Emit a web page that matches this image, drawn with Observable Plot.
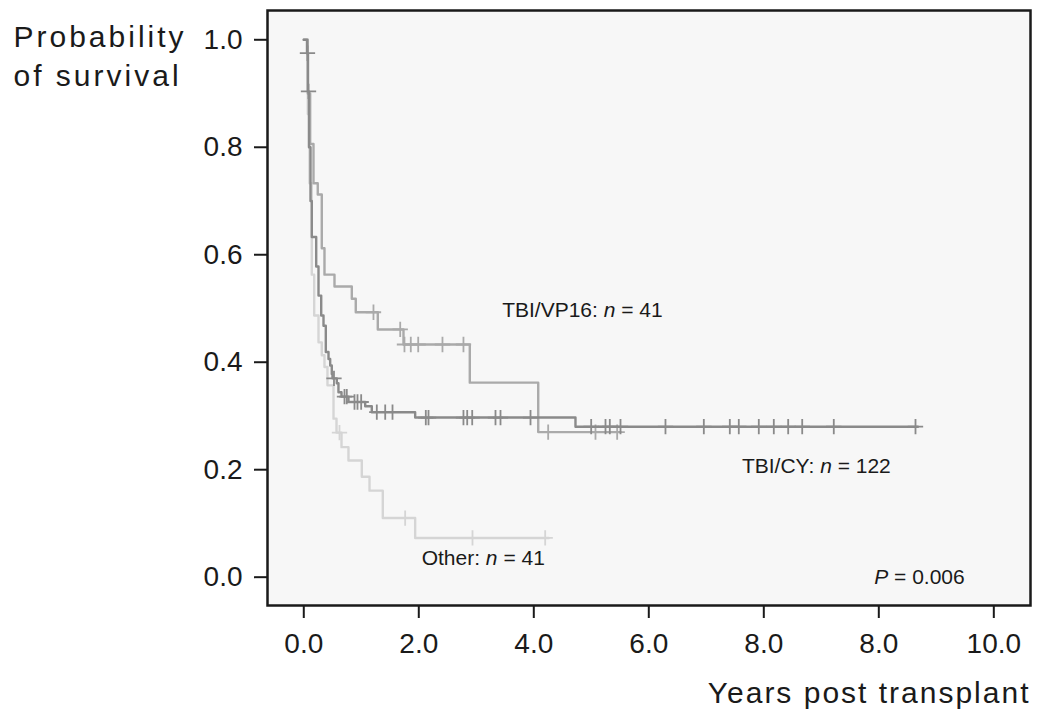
<!DOCTYPE html>
<html><head><meta charset="utf-8">
<script src="https://cdn.jsdelivr.net/npm/d3@7"></script>
<script src="https://cdn.jsdelivr.net/npm/@observablehq/plot@0.6"></script>
<style>
html,body{margin:0;padding:0;background:#fff;}
#chart svg{display:block;}
</style></head><body><div id="chart"></div>
<script>
// ---- axis ticks (labels as printed in the original, incl. the duplicated "8.0")
const xTicks = [0, 2, 4, 6, 8, 10, 12];
const xTickLabels = ["0.0", "2.0", "4.0", "6.0", "8.0", "8.0", "10.0"];
const yTicks = [0, 0.2, 0.4, 0.6, 0.8, 1.0];
const yTickLabels = ["0.0", "0.2", "0.4", "0.6", "0.8", "1.0"];

// ---- TBI/CY (n = 122)
const cyTime = [0, 0.056, 0.073, 0.090, 0.117, 0.139, 0.216, 0.256, 0.303, 0.343, 0.383, 0.430, 0.459, 0.487, 0.499, 0.574, 0.603, 0.656, 0.777, 1.068, 1.183, 1.937, 4.725, 10.68];
const cySurv = [1.0, 0.975, 0.904, 0.80, 0.70, 0.633, 0.578, 0.524, 0.487, 0.468, 0.419, 0.406, 0.394, 0.378, 0.370, 0.361, 0.344, 0.336, 0.326, 0.318, 0.307, 0.297, 0.280, 0.280];
const cyCensored = [0.064, 0.082, 0.525, 0.708, 0.748, 0.882, 0.934, 0.998, 1.270, 1.416, 1.543, 2.122, 2.169, 2.777, 2.842, 2.929, 3.334, 3.421, 3.943, 4.998, 5.247, 5.322, 5.508, 6.290, 6.957, 7.409, 7.565, 7.913, 8.174, 8.424, 8.668, 9.217, 10.638];

// ---- TBI/VP16 (n = 41)
const vpTime = [0, 0.070, 0.111, 0.169, 0.243, 0.313, 0.360, 0.534, 0.835, 0.904, 1.287, 1.734, 2.887, 4.077, 5.51];
const vpSurv = [1.0, 0.90, 0.806, 0.733, 0.712, 0.612, 0.563, 0.541, 0.518, 0.493, 0.461, 0.433, 0.362, 0.270, 0.270];
const vpCensored = [1.212, 1.677, 1.751, 1.861, 1.990, 2.412, 2.777, 4.250, 5.073, 5.450];

// ---- Other (n = 41)
const otTime = [0, 0.070, 0.099, 0.139, 0.181, 0.256, 0.313, 0.360, 0.412, 0.517, 0.569, 0.656, 0.777, 1.009, 1.143, 1.374, 1.937, 4.26];
const otSurv = [1.0, 0.862, 0.733, 0.563, 0.487, 0.437, 0.413, 0.391, 0.357, 0.295, 0.269, 0.242, 0.217, 0.187, 0.161, 0.110, 0.073, 0.073];
const otCensored = [0.621, 1.763, 2.934, 4.198];

// ---- annotations
const annoText = ["TBI/VP16: n = 41", "TBI/CY: n = 122", "Other: n = 41", "P = 0.006"];
const annoX = [3.45, 7.62, 2.05, 9.92];
const annoY = [0.485, 0.193, 0.022, -0.012];

const colors = {cy: "#8a8a8a", vp: "#aaaaaa", ot: "#d5d5d5"};

function curve(time, surv) { return time.map((t, i) => ({t, s: surv[i]})); }
function censorPts(time, surv, cens) {
  return cens.map(c => ({t: c, s: surv[Math.max(0, d3.bisectRight(time, c) - 1)]}));
}
const cy = curve(cyTime, cySurv), vp = curve(vpTime, vpSurv), ot = curve(otTime, otSurv);
const cyC = censorPts(cyTime, cySurv, cyCensored);
const vpC = censorPts(vpTime, vpSurv, vpCensored);
const otC = censorPts(otTime, otSurv, otCensored);
const annos = annoText.map((text, i) => ({text, x: annoX[i], y: annoY[i]}));

const font = "'Liberation Sans', Arial, Helvetica, sans-serif";
const censorR = 5;

const plot = Plot.plot({
  width: 1048,
  height: 710,
  marginLeft: 267,
  marginRight: 18,
  marginTop: 10,
  marginBottom: 105,
  style: {fontFamily: font, background: "#ffffff", color: "#1a1a1a"},
  x: {domain: [-0.631, 12.638]},
  y: {domain: [-0.0527, 1.0545]},
  marks: [
    Plot.frame({fill: "#f7f7f7", stroke: "none"}),
    Plot.line(ot, {x: "t", y: "s", curve: "step-after", stroke: colors.ot, strokeWidth: 2.4}),
    Plot.dot(otC, {x: "t", y: "s", symbol: "plus", r: censorR, stroke: colors.ot, strokeWidth: 1.8}),
    Plot.line(vp, {x: "t", y: "s", curve: "step-after", stroke: colors.vp, strokeWidth: 2.4}),
    Plot.dot(vpC, {x: "t", y: "s", symbol: "plus", r: censorR, stroke: colors.vp, strokeWidth: 1.8}),
    Plot.line(cy, {x: "t", y: "s", curve: "step-after", stroke: colors.cy, strokeWidth: 2.4}),
    Plot.dot(cyC, {x: "t", y: "s", symbol: "plus", r: censorR, stroke: colors.cy, strokeWidth: 1.8}),
    Plot.text(annos, {x: "x", y: "y", text: "text", textAnchor: "start", lineAnchor: "bottom",
      fontSize: 21, fill: "#1a1a1a"}),
    Plot.frame({stroke: "#1a1a1a", strokeWidth: 2.5}),
    Plot.axisX({ticks: xTicks, tickFormat: (d) => xTickLabels[xTicks.indexOf(d)], tickSize: 13,
      tickPadding: 15, fontSize: 28, label: null, stroke: "#1a1a1a", strokeWidth: 2}),
    Plot.axisY({ticks: yTicks, tickFormat: d => yTickLabels[yTicks.indexOf(d)], tickSize: 13,
      tickPadding: 12, fontSize: 28, label: null, stroke: "#1a1a1a", strokeWidth: 2}),
    Plot.text(["Probability\nof survival"], {frameAnchor: "top-left", dx: -254, dy: 75,
      textAnchor: "start", lineAnchor: "bottom", lineHeight: 1.27, fontSize: 30, fill: "#1a1a1a"}),
    Plot.text(["Years post transplant"], {frameAnchor: "bottom-right", dy: 97,
      textAnchor: "end", lineAnchor: "bottom", fontSize: 30, fill: "#1a1a1a"})
  ]
});

// italicise the statistical symbols n and P in the annotations
d3.select(plot).selectAll("text").each(function () {
  const el = d3.select(this);
  const txt = this.textContent;
  if (!annoText.includes(txt)) return;
  const parts = txt.split(/(\bn\b|\bP\b)(?= =)/);
  el.text(null).style("white-space", "pre");
  parts.forEach(p => {
    if (!p) return;
    const ts = el.append("tspan").text(p);
    if (p === "n" || p === "P") ts.attr("font-style", "italic");
  });
});
// letter spacing on the axis titles
d3.select(plot).selectAll("text").each(function () {
  const t = this.textContent;
  if (t.startsWith("Probability")) d3.select(this).attr("letter-spacing", "3px");
  if (t === "Years post transplant") d3.select(this).attr("letter-spacing", "2px");
});

document.getElementById("chart").append(plot);
</script></body></html>
